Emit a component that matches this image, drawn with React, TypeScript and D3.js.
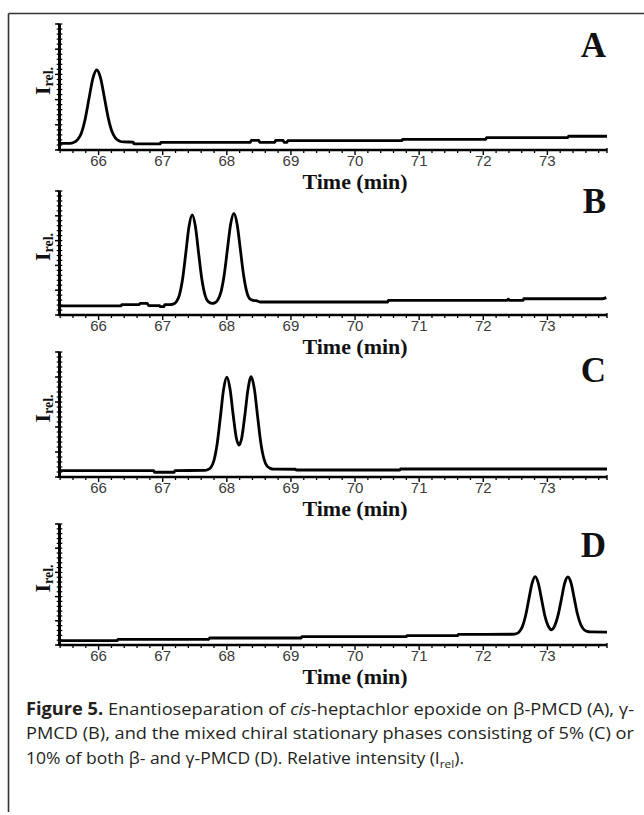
import React from "react";
import * as d3 from "d3";

// ---- Data ----
const xTicks = [66, 67, 68, 69, 70, 71, 72, 73];
const panelLabels = ["A", "B", "C", "D"];

// [time (min), relative intensity (0-100 of axis height)]
const traceA: [number, number][] = [
  [65.39, 5.3], [65.55, 5.3], [65.61, 5.9], [65.67, 8.0], [65.73, 13.3], [65.79, 24.4],
  [65.85, 40.8], [65.91, 56.7], [65.97, 63.5], [66.03, 57.3], [66.09, 41.6], [66.15, 25.5],
  [66.21, 14.4], [66.27, 9.0], [66.33, 7.0], [66.39, 6.4], [66.54, 6.3], [66.55, 4.8],
  [66.96, 4.8], [66.97, 6.1], [68.37, 6.1], [68.38, 7.7], [68.5, 7.7], [68.51, 6.1],
  [68.75, 6.1], [68.76, 7.7], [68.88, 7.7], [68.89, 6.1], [68.94, 6.1], [68.95, 7.4],
  [70.73, 7.4], [70.74, 8.5], [72.04, 8.5], [72.05, 9.8], [73.32, 9.8], [73.33, 10.9],
  [73.93, 10.9],
];

const traceB: [number, number][] = [
  [65.39, 7.3], [66.35, 7.3], [66.36, 8.3], [66.63, 8.3], [66.65, 9.4], [66.76, 9.4],
  [66.78, 7.5], [66.95, 7.5], [66.96, 6.7], [67.02, 6.7], [67.03, 8.3], [67.11, 8.3],
  [67.16, 8.7], [67.21, 10.5], [67.26, 16.1], [67.31, 29.0], [67.36, 49.9], [67.41, 71.3],
  [67.46, 80.7], [67.51, 71.3], [67.56, 49.9], [67.61, 29.0], [67.66, 16.1], [67.71, 10.8],
  [67.77, 9.4], [67.81, 9.8], [67.86, 12.2], [67.91, 18.9], [67.96, 32.7], [68.01, 53.3],
  [68.06, 73.4], [68.11, 82.0], [68.16, 73.4], [68.21, 53.3], [68.26, 32.7], [68.31, 18.9],
  [68.36, 13.0], [68.41, 11.8], [68.46, 11.5], [68.52, 10.5], [70.51, 10.5], [70.52, 11.8],
  [72.37, 11.8], [72.39, 12.8], [72.41, 11.8], [72.62, 11.8], [72.63, 13.1], [73.85, 13.1],
  [73.92, 14.0],
];

const traceC: [number, number][] = [
  [65.39, 5.1], [66.86, 5.1], [66.87, 3.8], [67.18, 3.8], [67.19, 5.1], [67.65, 5.3],
  [67.7, 5.8], [67.75, 7.6], [67.8, 13.4], [67.85, 26.8], [67.9, 48.2], [67.95, 70.3],
  [68.0, 79.8], [68.05, 70.5], [68.1, 49.2], [68.15, 30.8], [68.19, 25.6], [68.23, 30.6],
  [68.28, 48.9], [68.33, 70.1], [68.38, 80.3], [68.43, 70.3], [68.48, 48.5], [68.53, 27.3],
  [68.58, 14.3], [68.63, 8.6], [68.68, 6.9], [68.73, 6.3], [69.07, 6.2], [69.08, 5.6],
  [70.7, 5.6], [70.71, 6.4], [73.93, 6.4],
];

const traceD: [number, number][] = [
  [65.39, 3.6], [66.29, 3.6], [66.3, 4.7], [67.72, 4.7], [67.73, 5.8], [69.16, 5.8],
  [69.17, 6.9], [70.8, 6.9], [70.81, 7.7], [71.6, 7.7], [71.61, 8.8], [72.46, 8.9],
  [72.51, 9.3], [72.56, 10.9], [72.61, 15.2], [72.66, 24.2], [72.71, 37.6], [72.76, 50.7],
  [72.81, 56.5], [72.86, 50.7], [72.91, 37.6], [72.96, 24.3], [73.01, 16.0], [73.065, 12.6],
  [73.12, 16.6], [73.17, 25.3], [73.22, 38.3], [73.27, 51.1], [73.32, 56.2], [73.37, 51.1],
  [73.42, 38.3], [73.47, 25.4], [73.52, 16.9], [73.57, 12.7], [73.62, 11.2], [73.67, 10.8],
  [73.93, 10.7],
];

const traces = [traceA, traceB, traceC, traceD];

const captionLine1Rest = " Enantioseparation of ";
const captionLine1Tail = "-heptachlor epoxide on β-PMCD (A), γ-";
const captionLine2 = "PMCD (B), and the mixed chiral stationary phases consisting of 5% (C) or";
const captionLine3a = "10% of both β- and γ-PMCD (D). Relative intensity (I";
const captionLine3b = ").";

// ---- Layout ----
const W = 644;
const H = 815;
const X0 = 59.5;
const X1 = 607;
const panels = [
  { top: 24, bottom: 150, labelY: 57 },
  { top: 191, bottom: 315, labelY: 213 },
  { top: 352, bottom: 477, labelY: 382 },
  { top: 524, bottom: 645, labelY: 557 },
];

const x = d3.scaleLinear().domain([65.39, 73.93]).range([X0, X1]);
const minorX = d3.range(65.4, 73.95, 0.2).filter((v) => Math.abs(v - Math.round(v)) > 0.05);

function Panel({ idx }: { idx: number }) {
  const p = panels[idx];
  const y = d3.scaleLinear().domain([0, 100]).range([p.bottom, p.top]);
  const line = d3
    .line<[number, number]>()
    .x((d) => x(d[0]))
    .y((d) => y(d[1]))
    .curve(d3.curveMonotoneX);
  const minorY = d3.range(0, 101, 4);
  const majorY = d3.range(0, 101, 20);
  const midY = (p.top + p.bottom) / 2 - 6;
  return (
    <g>
      {/* y axis */}
      <line x1={X0} x2={X0} y1={p.top} y2={p.bottom + 1} stroke="#000" strokeWidth={3} />
      {minorY.map((v) => (
        <line key={"my" + v} x1={X0 - 2.8} x2={X0 + 2.8} y1={y(v)} y2={y(v)} stroke="#000" strokeWidth={1.2} />
      ))}
      {majorY.map((v) => (
        <line key={"My" + v} x1={X0 - 4.5} x2={X0} y1={y(v)} y2={y(v)} stroke="#000" strokeWidth={1.4} />
      ))}
      {/* x axis */}
      <line x1={X0} x2={X1} y1={p.bottom} y2={p.bottom} stroke="#000" strokeWidth={2.6} />
      {minorX.map((v, i) => (
        <line key={"mx" + i} x1={x(v)} x2={x(v)} y1={p.bottom} y2={p.bottom + 3} stroke="#000" strokeWidth={1.3} />
      ))}
      {xTicks.map((t) => (
        <g key={t}>
          <line x1={x(t)} x2={x(t)} y1={p.bottom} y2={p.bottom + 5} stroke="#000" strokeWidth={1.4} />
          <text
            x={x(t)}
            y={p.bottom + 15.5}
            textAnchor="middle"
            fontFamily="'Liberation Sans', Arial, sans-serif"
            fontSize={15}
            fill="#3a3a3a"
          >
            {t}
          </text>
        </g>
      ))}
      <line x1={X1} x2={X1} y1={p.bottom - 2} y2={p.bottom + 3} stroke="#000" strokeWidth={1.4} />
      <text
        x={x(70)}
        y={p.bottom + 38.5}
        textAnchor="middle"
        fontFamily="'Liberation Serif', 'Times New Roman', serif"
        fontWeight="bold"
        fontSize={21}
        fill="#111"
        textLength={105}
        lengthAdjust="spacingAndGlyphs"
      >
        Time (min)
      </text>
      {/* y label */}
      <text
        transform={`translate(${50},${midY}) rotate(-90)`}
        textAnchor="middle"
        fontFamily="'Liberation Serif', 'Times New Roman', serif"
        fontWeight="bold"
        fill="#111"
      >
        <tspan fontSize={22}>I</tspan>
        <tspan fontSize={14} dy={3}>
          rel.
        </tspan>
      </text>
      {/* panel letter */}
      <text
        x={606}
        y={p.labelY}
        textAnchor="end"
        fontFamily="'Liberation Serif', 'Times New Roman', serif"
        fontWeight="bold"
        fontSize={35}
        fill="#111"
      >
        {panelLabels[idx]}
      </text>
      {/* trace */}
      <path d={line(traces[idx]) || ""} fill="none" stroke="#000" strokeWidth={2.8} strokeLinejoin="round" />
    </g>
  );
}

export default function App() {
  const capFont = "'Open Sans', 'Noto Sans', sans-serif";
  return (
    <svg
      width={W}
      height={H}
      viewBox={`0 0 ${W} ${H}`}
      style={{ position: "absolute", left: 0, top: 0, background: "#fff" }}
    >
      <rect x={0} y={0} width={W} height={H} fill="#fff" />
      {/* frame */}
      <line x1={8.5} x2={W} y1={13.5} y2={13.5} stroke="#333" strokeWidth={1.6} />
      <line x1={8.5} x2={8.5} y1={13.5} y2={812} stroke="#333" strokeWidth={1.6} />
      {panels.map((_, i) => (
        <Panel key={i} idx={i} />
      ))}
      {/* caption */}
      <text x={26} y={714.5} fontFamily={capFont} fontSize={17} fill="#231f20" textLength={608} lengthAdjust="spacingAndGlyphs">
        <tspan fontWeight="bold">Figure 5.</tspan>
        <tspan>{captionLine1Rest}</tspan>
        <tspan fontStyle="italic">cis</tspan>
        <tspan>{captionLine1Tail}</tspan>
      </text>
      <text x={26} y={739} fontFamily={capFont} fontSize={17} fill="#231f20" textLength={608} lengthAdjust="spacingAndGlyphs">
        {captionLine2}
      </text>
      <text x={26} y={763.5} fontFamily={capFont} fontSize={17} fill="#231f20" textLength={438} lengthAdjust="spacingAndGlyphs">
        <tspan>{captionLine3a}</tspan>
        <tspan fontSize={11.5} dy={4}>
          rel
        </tspan>
        <tspan dy={-4}>{captionLine3b}</tspan>
      </text>
    </svg>
  );
}
